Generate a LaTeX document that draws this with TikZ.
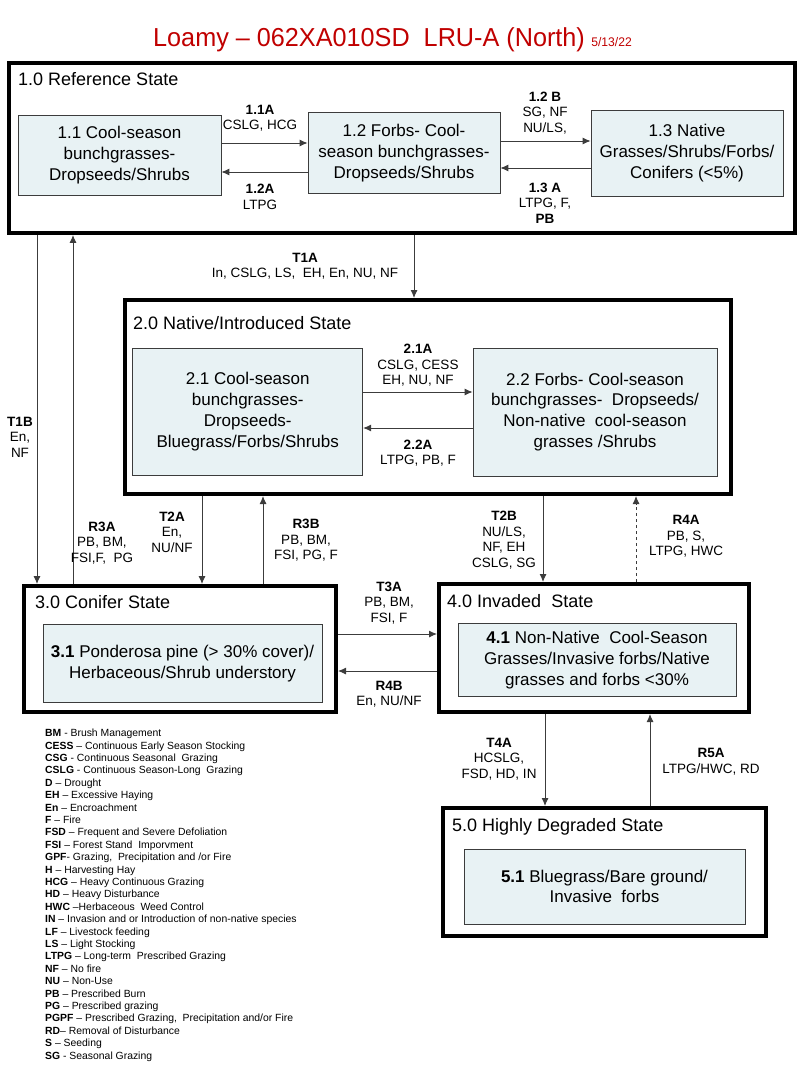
\documentclass[tikz,border=0pt]{standalone}
\usepackage{fontspec}
\setmainfont{Liberation Sans}
\newfontfamily\titlefont{Liberation Sans}[FakeStretch=0.97]
\usetikzlibrary{arrows.meta}
\definecolor{boxfill}{RGB}{232,242,244}
\definecolor{titlered}{RGB}{192,0,0}
\definecolor{edge}{RGB}{60,60,60}
\begin{document}
\begin{tikzpicture}[x=1pt,y=-1pt,
 statebox/.style={draw=black, line width=4pt, inner sep=0},
 sub/.style={draw=edge, fill=boxfill, line width=0.8pt, align=center, inner sep=0, font=\fontsize{17}{20.8}\selectfont},
 stitle/.style={anchor=base west, inner sep=0, font=\fontsize{18}{22}\selectfont},
 lab/.style={align=center, inner sep=0, font=\fontsize{13.5}{15.5}\selectfont},
 arr/.style={draw=edge, line width=0.9pt, -{Latex[length=8pt,width=7pt]}},
]
\useasboundingbox (0,0) rectangle (800,1067);
% title
\node[anchor=base west, inner sep=0, text=titlered, font=\titlefont\fontsize{26}{28}\selectfont] (title) at (153,47) {Loamy – 062XA010SD\ \ LRU-A (North)};
\node[anchor=base west, inner sep=0, text=titlered, font=\titlefont\fontsize{12.5}{14}\selectfont] (date) at ([xshift=6pt]title.base east) {5/13/22};
% states
\node[statebox, minimum width=786pt, minimum height=170pt] (st1) at (402,148) {};
\node[statebox, minimum width=606pt, minimum height=194pt] (st2) at (428,397) {};
\node[statebox, minimum width=312pt, minimum height=126pt] (st3) at (180,649) {};
\node[statebox, minimum width=310pt, minimum height=128pt] (st4) at (594,648) {};
\node[statebox, minimum width=323pt, minimum height=128pt] (st5) at (604.5,872) {};
\node[stitle] (st1t) at (18,86) {1.0 Reference State};
\node[stitle] (st2t) at (133,329) {2.0 Native/Introduced State};
\node[stitle] (st3t) at (35,608) {3.0 Conifer State};
\node[stitle] (st4t) at (447,607) {4.0 Invaded\ \ State};
\node[stitle] (st5t) at (452,831) {5.0 Highly Degraded State};
% community phases
\node[sub, minimum width=203pt, minimum height=80pt] (s11) at (119.5,155) {1.1 Cool-season\\bunchgrasses-\\Dropseeds/Shrubs};
\node[sub, minimum width=192pt, minimum height=81pt] (s12) at (404,153) {1.2 Forbs- Cool-\\season bunchgrasses-\\Dropseeds/Shrubs};
\node[sub, minimum width=192pt, minimum height=86pt] (s13) at (687,153) {1.3 Native\\Grasses/Shrubs/Forbs/\\Conifers (<5\%)};
\node[sub, minimum width=230pt, minimum height=127pt] (s21) at (247.7,411.5) {2.1 Cool-season\\bunchgrasses-\\Dropseeds-\\Bluegrass/Forbs/Shrubs};
\node[sub, minimum width=244pt, minimum height=128pt] (s22) at (595,412) {2.2 Forbs- Cool-season\\bunchgrasses-\ \ Dropseeds/\\Non-native\ \ cool-season\\grasses /Shrubs};
\node[sub, minimum width=279pt, minimum height=78pt] (s31) at (182.5,663.5) {\textbf{3.1} Ponderosa pine (> 30\% cover)/\\Herbaceous/Shrub understory};
\node[sub, minimum width=278pt, minimum height=73pt] (s41) at (597,660) {\textbf{4.1} Non-Native\ \ Cool-Season\\Grasses/Invasive forbs/Native\\grasses and forbs <30\%};
\node[sub, minimum width=281pt, minimum height=75pt] (s51) at (604.5,886.5) {\textbf{5.1} Bluegrass/Bare ground/\\Invasive\ \ forbs};
% arrows within states
\draw[arr] ([yshift=12pt]s11.east) coordinate (c11a) -- (c11a -| s12.west);
\draw[arr] ([yshift=-19pt]s12.west) coordinate (c12a) -- (c12a -| s11.east);
\draw[arr] ([yshift=12pt]s12.east) coordinate (c12b) -- (c12b -| s13.west);
\draw[arr] ([yshift=-15pt]s13.west) coordinate (c13a) -- (c13a -| s12.east);
\draw[arr] ([yshift=19.5pt]s21.east) coordinate (c21a) -- (c21a -| s22.west);
\draw[arr] ([yshift=-16pt]s22.west) coordinate (c22a) -- (c22a -| s21.east);
% transitions between states
\draw[arr] ([xshift=12pt]st1.south) coordinate (ct1a) -- (ct1a |- st2.north);
\draw[arr] ([xshift=30pt]st1.south west) coordinate (ct1b) -- (ct1b |- st3.north);
\path ([xshift=66pt]st1.south west) coordinate (cr3a);
\draw[arr] (cr3a |- st3.north) -- (cr3a);
\draw[arr] ([xshift=79pt]st2.south west) coordinate (ct2a) -- (ct2a |- st3.north);
\path ([xshift=140pt]st2.south west) coordinate (cr3b);
\draw[arr] (cr3b |- st3.north) -- (cr3b);
\draw[arr] ([xshift=420pt]st2.south west) coordinate (ct2b) -- (ct2b |- st4.north);
\path ([xshift=513pt]st2.south west) coordinate (cr4a);
\draw[arr, dashed] (cr4a |- st4.north) -- (cr4a);
\draw[arr] ([yshift=15pt]st3.east) coordinate (ct3a) -- (ct3a -| st4.west);
\draw[arr] ([yshift=-23pt]st4.west) coordinate (cr4b) -- (cr4b -| st3.east);
\draw[arr] ([xshift=108pt]st4.south west) coordinate (ct4a) -- (ct4a |- st5.north);
\path ([xshift=213pt]st4.south west) coordinate (cr5a);
\draw[arr] (cr5a |- st5.north) -- (cr5a);
% labels
\node[lab] (l11a) at (260,118) {\textbf{1.1A}\\CSLG, HCG};
\node[lab] (l12a) at (260,197) {\textbf{1.2A}\\LTPG};
\node[lab] (l12b) at (545,113) {\textbf{1.2 B}\\SG, NF\\NU/LS,};
\node[lab] (l13a) at (545,203) {\textbf{1.3 A}\\LTPG, F,\\\textbf{PB}};
\node[lab] (lt1a) at (305,266) {\textbf{T1A}\\In, CSLG, LS,\ \ EH, En, NU, NF};
\node[lab] (lt1b) at (20,437) {\textbf{T1B}\\En,\\NF};
\node[lab] (lr3a) at (102,543) {\textbf{R3A}\\PB, BM,\\FSI,F,\ \ PG};
\node[lab] (l21a) at (418,365.5) {\textbf{2.1A}\\CSLG, CESS\\EH, NU, NF};
\node[lab] (l22a) at (418,453) {\textbf{2.2A}\\LTPG, PB, F};
\node[lab] (lt2a) at (172,532) {\textbf{T2A}\\En,\\NU/NF};
\node[lab] (lr3b) at (306,540.5) {\textbf{R3B}\\PB, BM,\\FSI, PG, F};
\node[lab] (lt2b) at (504,540) {\textbf{T2B}\\NU/LS,\\NF, EH\\CSLG, SG};
\node[lab] (lr4a) at (686,536.5) {\textbf{R4A}\\PB, S,\\LTPG, HWC};
\node[lab] (lt3a) at (389,603) {\textbf{T3A}\\PB, BM,\\FSI, F};
\node[lab] (lr4b) at (389,694) {\textbf{R4B}\\En, NU/NF};
\node[lab] (lt4a) at (499,759) {\textbf{T4A}\\HCSLG,\\FSD, HD, IN};
\node[lab] (lr5a) at (711,761.5) {\textbf{R5A}\\LTPG/HWC, RD};
% legend
\node[anchor=north west, align=left, inner sep=0, font=\fontsize{10.4}{12.4}\selectfont] (legend) at (45,729) {%
\textbf{BM} - Brush Management\\
\textbf{CESS} – Continuous Early Season Stocking\\
\textbf{CSG} - Continuous Seasonal\ \ Grazing\\
\textbf{CSLG} - Continuous Season-Long\ \ Grazing\\
\textbf{D} – Drought\\
\textbf{EH} – Excessive Haying\\
\textbf{En} – Encroachment\\
\textbf{F} – Fire\\
\textbf{FSD} – Frequent and Severe Defoliation\\
\textbf{FSI} – Forest Stand\ \ Imporvment\\
\textbf{GPF}- Grazing,\ \ Precipitation and /or Fire\\
\textbf{H} – Harvesting Hay\\
\textbf{HCG} – Heavy Continuous Grazing\\
\textbf{HD} – Heavy Disturbance\\
\textbf{HWC} –Herbaceous\ \ Weed Control\\
\textbf{IN} – Invasion and or Introduction of non-native species\\
\textbf{LF} – Livestock feeding\\
\textbf{LS} – Light Stocking\\
\textbf{LTPG} – Long-term\ \ Prescribed Grazing\\
\textbf{NF} – No fire\\
\textbf{NU} – Non-Use\\
\textbf{PB} – Prescribed Burn\\
\textbf{PG} – Prescribed grazing\\
\textbf{PGPF} – Prescribed Grazing,\ \ Precipitation and/or Fire\\
\textbf{RD}– Removal of Disturbance\\
\textbf{S} – Seeding\\
\textbf{SG} - Seasonal Grazing};
\end{tikzpicture}
\end{document}
